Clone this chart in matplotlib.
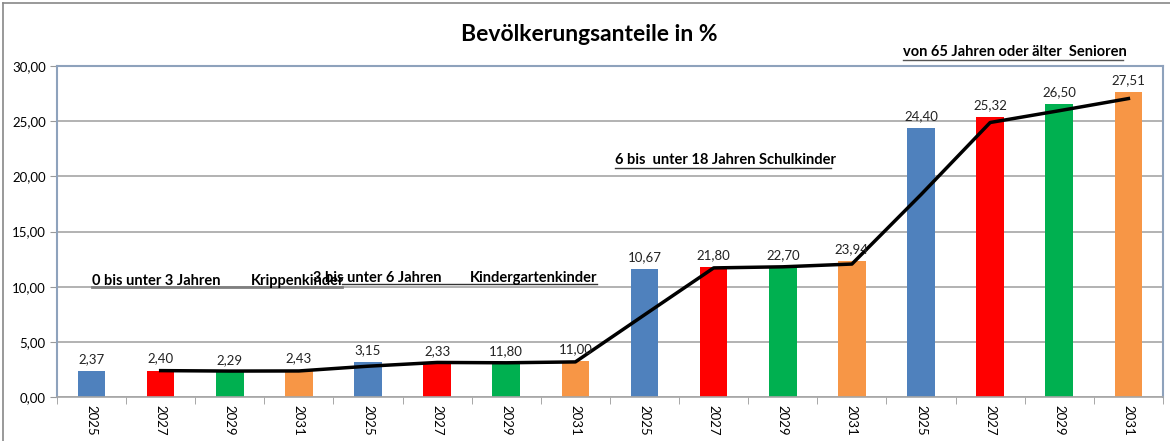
import matplotlib
matplotlib.use("Agg")
import matplotlib.pyplot as plt
from matplotlib.lines import Line2D
import numpy as np

plt.rcParams['font.family'] = ['Lato', 'DejaVu Sans']

# ── Daten ─────────────────────────────────────────────────────────────
jahre = ["2025", "2027", "2029", "2031"] * 4
balken = [2.37, 2.40, 2.29, 2.43,
          3.15, 3.10, 3.10, 3.25,
          11.60, 11.80, 11.80, 12.30,
          24.40, 25.35, 26.55, 27.60]
beschriftung = ["2,37", "2,40", "2,29", "2,43",
                "3,15", "2,33", "11,80", "11,00",
                "10,67", "21,80", "22,70", "23,94",
                "24,40", "25,32", "26,50", "27,51"]
trend = [np.nan, 2.39, 2.35, 2.36, 2.79, 3.13, 3.10, 3.18,
         7.45, 11.70, 11.80, 12.05, 18.35, 24.88, 25.95, 27.05]
farben = ["#4F81BD", "#FF0000", "#00B050", "#F79646"] * 4

# ── Figur ─────────────────────────────────────────────────────────────
fig = plt.figure(figsize=(11.7, 4.41), dpi=100)
ax = fig.add_axes([0.0487, 0.0998, 0.9453, 0.7505])

x = np.arange(len(balken))
ax.bar(x, balken, width=0.40, color=farben, zorder=2)
ax.plot(x, trend, color="black", lw=2.5, zorder=3)

for xi, h, txt in zip(x, balken, beschriftung):
    ax.text(xi, h + 0.55, txt, ha="center", va="bottom", fontsize=9.5, color="#222222", zorder=4)

ax.set_xlim(-0.5, len(balken) - 0.5)
ax.set_ylim(0, 30)
ax.set_yticks(np.arange(0, 31, 5))
ax.set_yticklabels([f"{v:.2f}".replace(".", ",") for v in np.arange(0, 31, 5)], fontsize=9.5)
ax.set_xticks(x)
ax.set_xticklabels(jahre, rotation=-90, fontsize=9.5)
ax.tick_params(axis="x", length=0, pad=6)
ax.set_xticks(np.arange(-0.5, len(balken), 1), minor=True)
ax.tick_params(axis="x", which="minor", length=5, color="#999999")
ax.tick_params(axis="y", length=5, color="#999999", pad=3)

ax.grid(axis="y", color="#A6A6A6", lw=1.2, zorder=0)
for side in ["left", "top", "right"]:
    ax.spines[side].set_color("#8EA2BC")
    ax.spines[side].set_linewidth(1.5)
ax.spines["bottom"].set_color("#A6A6A6")
ax.spines["bottom"].set_linewidth(1.2)

# ── Titel ─────────────────────────────────────────────────────────────
fig.text(0.504, 0.922, "Bevölkerungsanteile in %", ha="center", va="center",
         fontsize=16.5, fontweight="bold")

# ── Gruppenbeschriftungen (unterstrichen) ─────────────────────────────
def fx(px):
    return px / 1170

def fy(py):
    return 1 - py / 441

gruppen = [
    ("0 bis unter 3 Jahren", 92, 281),
    ("Krippenkinder", 251, 281),
    ("3 bis unter 6 Jahren", 313, 278),
    ("Kindergartenkinder", 470, 278),
    ("6 bis  unter 18 Jahren Schulkinder", 615, 160),
    ("von 65 Jahren oder älter  Senioren", 903, 52),
]
for txt, px, py in gruppen:
    fig.text(fx(px), fy(py), txt, ha="left", va="center", fontsize=10.5,
             fontweight="bold", zorder=5)

unterstriche = [
    (92, 342, 287, "#7F7F7F", 2.0),
    (342, 597, 284, "#333333", 1.0),
    (615, 831, 168, "#333333", 1.0),
    (903, 1123, 60, "#555555", 1.0),
]
for x0, x1, py, col, lw in unterstriche:
    fig.add_artist(Line2D([fx(x0), fx(x1)], [fy(py), fy(py)], color=col, lw=lw, zorder=5))

# äußerer Rahmen
fig.add_artist(Line2D([fx(2.5), fx(2.5)], [0, fy(2.5)], color="#888888", lw=1.2))
fig.add_artist(Line2D([fx(2.5), 1], [fy(2.5), fy(2.5)], color="#888888", lw=1.2))

fig.savefig("out.png", dpi=100)
